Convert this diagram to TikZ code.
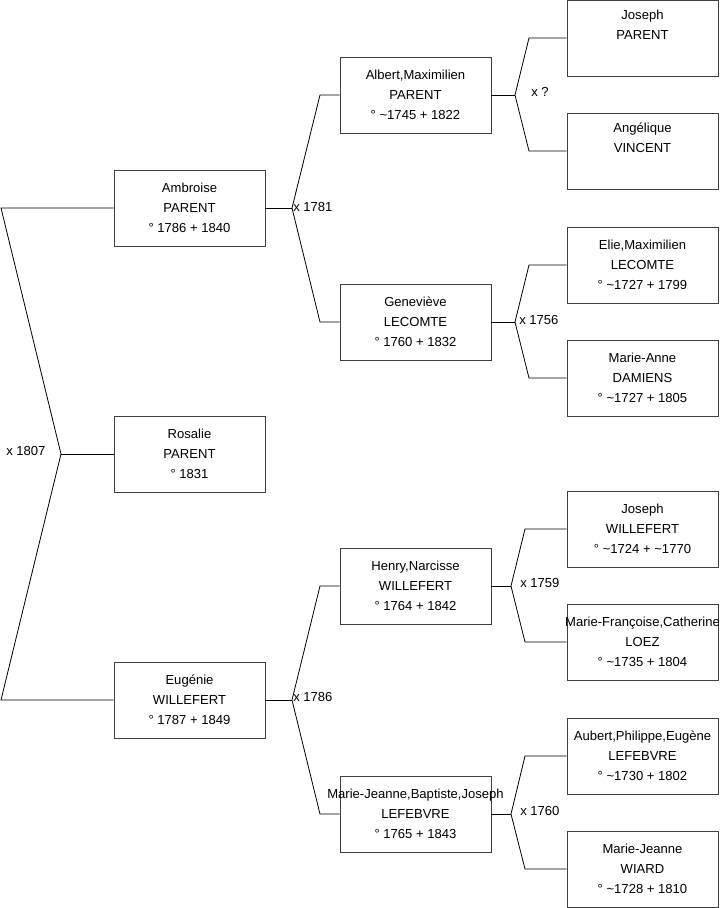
\documentclass[tikz,border=0pt]{standalone}
\usepackage{fontspec}
\setmainfont{Liberation Sans}
\usepackage{tikz}
\usetikzlibrary{positioning, calc}

\begin{document}
\begin{tikzpicture}[x=0.75pt, y=-0.75pt,
        person/.style={rectangle, draw=black!75, line width=0.7pt, minimum width=113.25pt, minimum height=57pt, align=center, inner xsep=-20pt, inner ysep=0pt, font=\fontsize{9.8}{15}\selectfont},
        link/.style={draw, black, line width=0.6pt},
        wed/.style={anchor=west, inner sep=0pt, font=\fontsize{9.8}{11}\selectfont}
    ]
    \useasboundingbox (0,0) rectangle (719,908);

    % Generation 1
    \node[person] (ambroise) at (189.5, 208) {Ambroise\\PARENT\\° 1786 + 1840};
    \node[person] (rosalie) at (189.5, 454) {Rosalie\\PARENT\\° 1831};
    \node[person] (eugenie) at (189.5, 700) {Eugénie\\WILLEFERT\\° 1787 + 1849};

    % Generation 2
    \node[person] (albert) at (415.5, 95) {Albert,Maximilien\\PARENT\\° \textasciitilde1745 + 1822};
    \node[person] (genevieve) at (415.5, 322) {Geneviève\\LECOMTE\\° 1760 + 1832};
    \node[person] (henry) at (415.5, 586) {Henry,Narcisse\\WILLEFERT\\° 1764 + 1842};
    \node[person] (mariejeanne) at (415.5, 814) {Marie-Jeanne,Baptiste,Joseph\\LEFEBVRE\\° 1765 + 1843};

    % Generation 3
    \node[person] (joseph) at (642.5, 38) {Joseph\\PARENT\\\strut};
    \node[person] (angelique) at (642.5, 151) {Angélique\\VINCENT\\\strut};
    \node[person] (elie) at (642.5, 265) {Elie,Maximilien\\LECOMTE\\° \textasciitilde1727 + 1799};
    \node[person] (marieanne) at (642.5, 378) {Marie-Anne\\DAMIENS\\° \textasciitilde1727 + 1805};
    \node[person] (josephw) at (642.5, 529) {Joseph\\WILLEFERT\\° \textasciitilde1724 + \textasciitilde1770};
    \node[person] (mariefrancoise) at (642.5, 642) {Marie-Françoise,Catherine\\LOEZ\\° \textasciitilde1735 + 1804};
    \node[person] (aubert) at (642.5, 756) {Aubert,Philippe,Eugène\\LEFEBVRE\\° \textasciitilde1730 + 1802};
    \node[person] (mariejeannew) at (642.5, 869) {Marie-Jeanne\\WIARD\\° \textasciitilde1728 + 1810};

    % Junction points
    \coordinate (j1) at (61, 454);
    \coordinate (j1a) at (1, 208);
    \coordinate (j1b) at (1, 700);
    \coordinate (j2) at (292, 208);
    \coordinate (j2a) at (320, 95);
    \coordinate (j2b) at (320, 322);
    \coordinate (j3) at (292, 700);
    \coordinate (j3a) at (320, 586);
    \coordinate (j3b) at (320, 814);
    \coordinate (j4) at (515, 95);
    \coordinate (j4a) at (529, 38);
    \coordinate (j4b) at (529, 151);
    \coordinate (j5) at (515, 322);
    \coordinate (j5a) at (529, 265);
    \coordinate (j5b) at (529, 378);
    \coordinate (j6) at (511, 586);
    \coordinate (j6a) at (525, 529);
    \coordinate (j6b) at (525, 642);
    \coordinate (j7) at (511, 814);
    \coordinate (j7a) at (525, 756);
    \coordinate (j7b) at (525, 869);

    % Links - parents of Rosalie
    \draw[link] (ambroise.west) -- (j1a) -- (j1) -- (j1b) -- (eugenie.west);
    \draw[link] (j1) -- (rosalie.west);

    % Links - parents of Ambroise and Eugenie
    \draw[link] (ambroise.east) -- (j2);
    \draw[link] (albert.west) -- (j2a) -- (j2) -- (j2b) -- (genevieve.west);
    \draw[link] (eugenie.east) -- (j3);
    \draw[link] (henry.west) -- (j3a) -- (j3) -- (j3b) -- (mariejeanne.west);

    % Links - third generation
    \draw[link] (albert.east) -- (j4);
    \draw[link] (joseph.west) -- (j4a) -- (j4) -- (j4b) -- (angelique.west);
    \draw[link] (genevieve.east) -- (j5);
    \draw[link] (elie.west) -- (j5a) -- (j5) -- (j5b) -- (marieanne.west);
    \draw[link] (henry.east) -- (j6);
    \draw[link] (josephw.west) -- (j6a) -- (j6) -- (j6b) -- (mariefrancoise.west);
    \draw[link] (mariejeanne.east) -- (j7);
    \draw[link] (aubert.west) -- (j7a) -- (j7) -- (j7b) -- (mariejeannew.west);

    % Marriage labels
    \node[wed] (m1807) at (6, 451) {x 1807};
    \node[wed] (m1781) at (293, 207) {x 1781};
    \node[wed] (m1786) at (293, 697) {x 1786};
    \node[wed] (mqq) at (531, 92) {x ?};
    \node[wed] (m1756) at (519, 320) {x 1756};
    \node[wed] (m1759) at (520, 583) {x 1759};
    \node[wed] (m1760) at (520, 811) {x 1760};

\end{tikzpicture}
\end{document}
